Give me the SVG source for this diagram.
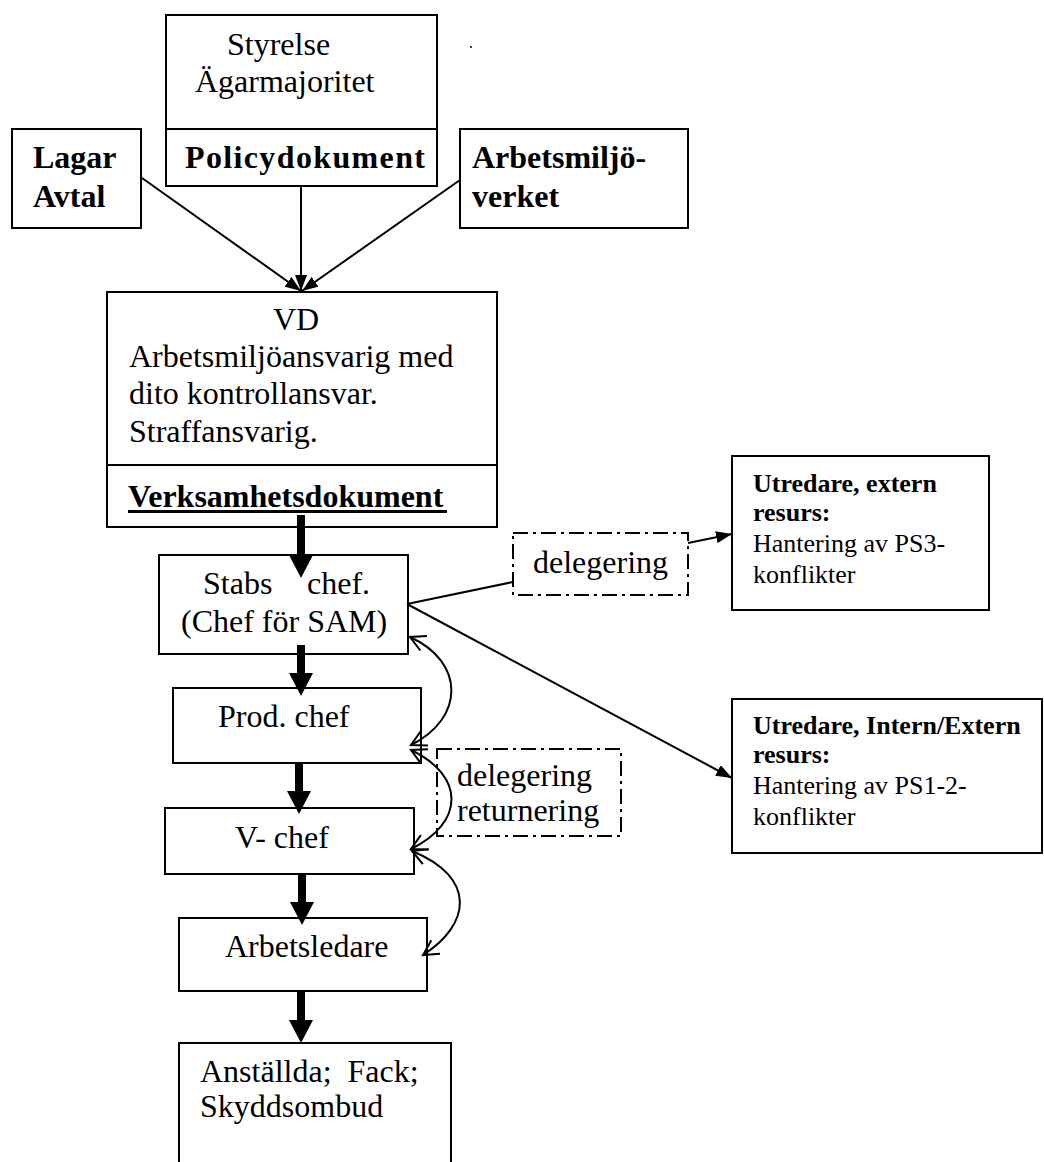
<svg xmlns="http://www.w3.org/2000/svg" width="1044" height="1162" viewBox="0 0 1044 1162">
  <style>
    .box { fill: #fff; stroke: #000; stroke-width: 2; }
    .dd { fill: none; stroke: #000; stroke-width: 2; stroke-dasharray: 15 5 3 5; }
    .div { stroke: #000; stroke-width: 2; }
    .t { font-family: "Liberation Serif", "Times New Roman", serif; font-size: 32px; fill: #000; white-space: pre; }
    .b { font-weight: bold; }
    .s { font-size: 26px; }
    .ln { stroke: #000; stroke-width: 2; fill: none; }
    .thick { stroke: #000; stroke-width: 8; fill: none; }
    .curve { stroke: #000; stroke-width: 2; fill: none; marker-start: url(#open); marker-end: url(#open); }
  </style>
  <defs>
    <marker id="thickHead" markerUnits="userSpaceOnUse" markerWidth="23" markerHeight="24" refX="0" refY="12" orient="auto">
      <path d="M0,0 L23,12 L0,24 z" fill="#000"/>
    </marker>
    <marker id="head" markerUnits="userSpaceOnUse" markerWidth="16" markerHeight="12" refX="16" refY="6" orient="auto">
      <path d="M0,0 L16,6 L0,12 z" fill="#000"/>
    </marker>
    <marker id="open" markerUnits="userSpaceOnUse" markerWidth="20" markerHeight="20" refX="17" refY="10" orient="auto-start-reverse">
      <path d="M2,2 L17,10 L2,18" fill="none" stroke="#000" stroke-width="2"/>
    </marker>
  </defs>

  <rect width="1044" height="1162" fill="#fff"/>

  <!-- top level: board and policy -->
  <g id="styrelse">
    <rect class="box" x="166" y="15" width="271" height="171"/>
    <line class="div" x1="166" y1="129" x2="437" y2="129"/>
    <text class="t" x="227" y="55">Styrelse</text>
    <text class="t" x="195" y="92">Ägarmajoritet</text>
    <text class="t b" x="185" y="168" textLength="240" lengthAdjust="spacing">Policydokument</text>
  </g>
  <circle cx="471" cy="47" r="1" fill="#000"/>

  <g id="lagar">
    <rect class="box" x="12" y="129" width="129" height="99"/>
    <text class="t b" x="33" y="168">Lagar</text>
    <text class="t b" x="33" y="207">Avtal</text>
  </g>

  <g id="arbetsmiljoverket">
    <rect class="box" x="460" y="129" width="228" height="99"/>
    <text class="t b" x="472" y="168">Arbetsmiljö-</text>
    <text class="t b" x="472" y="207">verket</text>
  </g>

  <g id="vd">
    <rect class="box" x="107" y="292" width="390" height="235"/>
    <line class="div" x1="107" y1="465" x2="497" y2="465"/>
    <text class="t" x="273" y="330">VD</text>
    <text class="t" x="129" y="367">Arbetsmiljöansvarig med</text>
    <text class="t" x="129" y="404">dito kontrollansvar.</text>
    <text class="t" x="129" y="442">Straffansvarig.</text>
    <text class="t b" x="128" y="507">Verksamhetsdokument</text>
    <rect x="128" y="510" width="319" height="3" fill="#000"/>
  </g>

  <g id="stabschef">
    <rect class="box" x="159" y="555" width="249" height="99"/>
    <text class="t" x="203" y="594">Stabs</text>
    <text class="t" x="307" y="594">chef.</text>
    <text class="t" x="181" y="632">(Chef för SAM)</text>
  </g>

  <g id="prodchef">
    <rect class="box" x="173" y="688" width="248" height="75"/>
    <text class="t" x="218" y="727">Prod. chef</text>
  </g>

  <g id="vchef">
    <rect class="box" x="165" y="808" width="249" height="66"/>
    <text class="t" x="235" y="848">V- chef</text>
  </g>

  <g id="arbetsledare">
    <rect class="box" x="179" y="918" width="248" height="73"/>
    <text class="t" x="225" y="957">Arbetsledare</text>
  </g>

  <g id="anstallda">
    <rect class="box" x="179" y="1043" width="272" height="130"/>
    <text class="t" x="200" y="1082">Anställda;  Fack;</text>
    <text class="t" x="200" y="1117">Skyddsombud</text>
  </g>

  <g id="delegering1">
    <rect class="dd" x="513" y="533" width="175" height="62"/>
    <text class="t" x="533" y="573">delegering</text>
  </g>

  <g id="delegering2">
    <rect class="dd" x="437" y="749" width="184" height="87"/>
    <text class="t" x="457" y="786">delegering</text>
    <text class="t" x="457" y="821">returnering</text>
  </g>

  <g id="utredare-extern">
    <rect class="box" x="732" y="456" width="257" height="154"/>
    <text class="t b s" x="753" y="492">Utredare, extern</text>
    <text class="t b s" x="753" y="521">resurs:</text>
    <text class="t s" x="753" y="552">Hantering av PS3-</text>
    <text class="t s" x="753" y="583">konflikter</text>
  </g>

  <g id="utredare-intern">
    <rect class="box" x="732" y="699" width="310" height="154"/>
    <text class="t b s" x="753" y="734">Utredare, Intern/Extern</text>
    <text class="t b s" x="753" y="763">resurs:</text>
    <text class="t s" x="753" y="794">Hantering av PS1-2-</text>
    <text class="t s" x="753" y="825">konflikter</text>
  </g>

  <g id="connectors">
    <!-- inputs to VD -->
    <line class="ln" x1="142" y1="178" x2="301" y2="291" marker-end="url(#head)"/>
    <line class="ln" x1="301" y1="186" x2="301" y2="291" marker-end="url(#head)"/>
    <line class="ln" x1="460" y1="180" x2="302" y2="291" marker-end="url(#head)"/>

    <!-- chain of command -->
    <line class="thick" x1="301" y1="515" x2="301" y2="555" marker-end="url(#thickHead)"/>
    <line class="thick" x1="301" y1="645" x2="301" y2="673" marker-end="url(#thickHead)"/>
    <line class="thick" x1="299" y1="763" x2="299" y2="791" marker-end="url(#thickHead)"/>
    <line class="thick" x1="302" y1="873" x2="302" y2="902" marker-end="url(#thickHead)"/>
    <line class="thick" x1="301" y1="991" x2="301" y2="1020" marker-end="url(#thickHead)"/>

    <!-- delegation to investigators -->
    <line class="ln" x1="407" y1="604" x2="513" y2="582"/>
    <line class="ln" x1="688" y1="543" x2="732" y2="534" marker-end="url(#head)"/>
    <line class="ln" x1="407" y1="604" x2="732" y2="778" marker-end="url(#head)"/>

    <!-- delegation / return loops -->
    <path class="curve" d="M410,637 C465,662 465,718 411,745"/>
    <path class="curve" d="M411,750 C465,776 465,822 411,849"/>
    <path class="curve" d="M412,851 C478,878 470,925 423,955"/>
  </g>
</svg>
